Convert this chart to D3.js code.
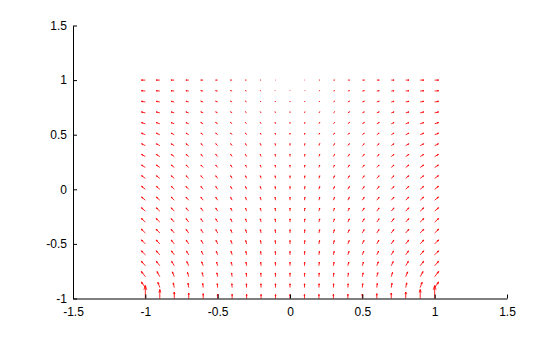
<!DOCTYPE html>
<html>
<head>
<meta charset="utf-8">
<script src="https://cdn.jsdelivr.net/npm/d3@7"></script>
<style>
html,body{margin:0;padding:0;background:#fff;}
svg{display:block;}
.axis text{font-family:"Liberation Sans",Arial,Helvetica,sans-serif;font-size:12px;fill:#000;}
.axis path,.axis line{stroke:#000;}
</style>
</head>
<body>
<svg id="chart" width="560" height="337"></svg>
<script>
// Grid of arrow origins
const gridX = [-1,-0.9,-0.8,-0.7,-0.6,-0.5,-0.4,-0.3,-0.2,-0.1,0,0.1,0.2,0.3,0.4,0.5,0.6,0.7,0.8,0.9,1];
const gridY = [1,0.9,0.8,0.7,0.6,0.5,0.4,0.3,0.2,0.1,0,-0.1,-0.2,-0.3,-0.4,-0.5,-0.6,-0.7,-0.8,-0.9,-1];

// Horizontal components (rows follow gridY, columns follow gridX)
const uField = [
[-4,-3.6,-3.2,-2.8,-2.4,-2,-1.6,-1.2,-0.8,-0.4,0,0.4,0.8,1.2,1.6,2,2.4,2.8,3.2,3.6,4],
[-4,-3.6,-3.2,-2.8,-2.4,-2,-1.6,-1.2,-0.8,-0.4,0,0.4,0.8,1.2,1.6,2,2.4,2.8,3.2,3.6,4],
[-4,-3.6,-3.2,-2.8,-2.4,-2,-1.6,-1.2,-0.8,-0.4,0,0.4,0.8,1.2,1.6,2,2.4,2.8,3.2,3.6,4],
[-4,-3.6,-3.2,-2.8,-2.4,-2,-1.6,-1.2,-0.8,-0.4,0,0.4,0.8,1.2,1.6,2,2.4,2.8,3.2,3.6,4],
[-3.9,-3.6,-3.2,-2.8,-2.4,-2,-1.6,-1.2,-0.8,-0.4,0,0.4,0.8,1.2,1.6,2,2.4,2.8,3.2,3.6,3.9],
[-3.9,-3.5,-3.1,-2.7,-2.3,-1.95,-1.55,-1.15,-0.8,-0.4,0,0.4,0.8,1.15,1.55,1.95,2.3,2.7,3.1,3.5,3.9],
[-3.8,-3.5,-3.1,-2.7,-2.3,-1.9,-1.5,-1.15,-0.75,-0.4,0,0.4,0.75,1.15,1.5,1.9,2.3,2.7,3.1,3.5,3.8],
[-3.8,-3.5,-3.1,-2.7,-2.3,-1.9,-1.5,-1.15,-0.75,-0.4,0,0.4,0.75,1.15,1.5,1.9,2.3,2.7,3.1,3.5,3.8],
[-3.8,-3.4,-3,-2.7,-2.3,-1.9,-1.5,-1.1,-0.75,-0.4,0,0.4,0.75,1.1,1.5,1.9,2.3,2.7,3,3.4,3.8],
[-3.8,-3.4,-3,-2.7,-2.3,-1.9,-1.5,-1.1,-0.75,-0.4,0,0.4,0.75,1.1,1.5,1.9,2.3,2.7,3,3.4,3.8],
[-3.8,-3.4,-3,-2.7,-2.3,-1.9,-1.5,-1.1,-0.75,-0.4,0,0.4,0.75,1.1,1.5,1.9,2.3,2.7,3,3.4,3.8],
[-3.8,-3.4,-3,-2.7,-2.3,-1.9,-1.5,-1.1,-0.75,-0.4,0,0.4,0.75,1.1,1.5,1.9,2.3,2.7,3,3.4,3.8],
[-3.9,-3.5,-3.1,-2.7,-2.3,-1.9,-1.5,-1.1,-0.75,-0.4,0,0.4,0.75,1.1,1.5,1.9,2.3,2.7,3.1,3.5,3.9],
[-4,-3.6,-3.1,-2.7,-2.3,-1.9,-1.5,-1.1,-0.75,-0.4,0,0.4,0.75,1.1,1.5,1.9,2.3,2.7,3.1,3.6,4],
[-4,-3.6,-3.1,-2.6,-2.2,-1.8,-1.4,-1,-0.7,-0.35,0,0.35,0.7,1,1.4,1.8,2.2,2.6,3.1,3.6,4],
[-4,-3.6,-3,-2.5,-2,-1.6,-1.3,-0.9,-0.6,-0.3,0,0.3,0.6,0.9,1.3,1.6,2,2.5,3,3.6,4],
[-4,-3.6,-2.8,-2.3,-1.8,-1.4,-1.1,-0.8,-0.5,-0.25,0,0.25,0.5,0.8,1.1,1.4,1.8,2.3,2.8,3.6,4],
[-4,-3.5,-2.6,-1.9,-1.5,-1.1,-0.9,-0.6,-0.4,-0.2,0,0.2,0.4,0.6,0.9,1.1,1.5,1.9,2.6,3.5,4],
[-4,-2.8,-1.9,-1.3,-1,-0.8,-0.6,-0.4,-0.3,-0.15,0,0.15,0.3,0.4,0.6,0.8,1,1.3,1.9,2.8,4],
[-4,-1.9,-1,-0.7,-0.5,-0.4,-0.3,-0.2,-0.15,-0.1,0,0.1,0.15,0.2,0.3,0.4,0.5,0.7,1,1.9,4],
[0,0,0,0,0,0,0,0,0,0,0,0,0,0,0,0,0,0,0,0,0]
];

// Vertical components (rows follow gridY, columns follow gridX)
const vField = [
[0,0,0,0,0,0,0,0,0,0,0,0,0,0,0,0,0,0,0,0,0],
[0.3,0.3,0.3,0.3,0.35,0.35,0.4,0.4,0.4,0.4,0.4,0.4,0.4,0.4,0.4,0.35,0.35,0.3,0.3,0.3,0.3],
[0.6,0.6,0.6,0.65,0.7,0.7,0.75,0.8,0.8,0.8,0.8,0.8,0.8,0.8,0.75,0.7,0.7,0.65,0.6,0.6,0.6],
[0.9,0.9,0.9,0.95,1,1,1.05,1.1,1.1,1.1,1.1,1.1,1.1,1.1,1.05,1,1,0.95,0.9,0.9,0.9],
[1.2,1.2,1.2,1.25,1.3,1.3,1.35,1.4,1.4,1.4,1.4,1.4,1.4,1.4,1.35,1.3,1.3,1.25,1.2,1.2,1.2],
[1.5,1.5,1.5,1.55,1.6,1.6,1.65,1.7,1.7,1.7,1.7,1.7,1.7,1.7,1.65,1.6,1.6,1.55,1.5,1.5,1.5],
[1.8,1.8,1.8,1.85,1.9,1.9,1.95,2,2,2,2,2,2,2,1.95,1.9,1.9,1.85,1.8,1.8,1.8],
[2.1,2.1,2.1,2.1,2.1,2.15,2.2,2.2,2.2,2.2,2.2,2.2,2.2,2.2,2.2,2.15,2.1,2.1,2.1,2.1,2.1],
[2.4,2.4,2.4,2.4,2.4,2.4,2.4,2.4,2.4,2.4,2.4,2.4,2.4,2.4,2.4,2.4,2.4,2.4,2.4,2.4,2.4],
[2.7,2.6,2.6,2.6,2.6,2.6,2.6,2.6,2.6,2.6,2.6,2.6,2.6,2.6,2.6,2.6,2.6,2.6,2.6,2.6,2.7],
[3,2.9,2.9,2.8,2.8,2.8,2.8,2.8,2.8,2.8,2.8,2.8,2.8,2.8,2.8,2.8,2.8,2.8,2.9,2.9,3],
[3.2,3.1,3.1,3,3,3,3,3,3,3,3,3,3,3,3,3,3,3,3.1,3.1,3.2],
[3.4,3.3,3.3,3.2,3.2,3.1,3.1,3.1,3.1,3.1,3.1,3.1,3.1,3.1,3.1,3.1,3.2,3.2,3.3,3.3,3.4],
[3.6,3.5,3.4,3.4,3.3,3.3,3.2,3.2,3.2,3.2,3.2,3.2,3.2,3.2,3.2,3.3,3.3,3.4,3.4,3.5,3.6],
[3.8,3.7,3.6,3.5,3.4,3.4,3.3,3.3,3.3,3.3,3.3,3.3,3.3,3.3,3.3,3.4,3.4,3.5,3.6,3.7,3.8],
[4,3.9,3.8,3.7,3.6,3.5,3.4,3.4,3.4,3.4,3.4,3.4,3.4,3.4,3.4,3.5,3.6,3.7,3.8,3.9,4],
[4,4,3.9,3.8,3.7,3.6,3.5,3.5,3.5,3.5,3.5,3.5,3.5,3.5,3.5,3.6,3.7,3.8,3.9,4,4],
[4.5,4.5,4.4,4.2,3.9,3.7,3.6,3.6,3.6,3.6,3.6,3.6,3.6,3.6,3.6,3.7,3.9,4.2,4.4,4.5,4.5],
[5.2,5.1,4.8,4.3,4,3.8,3.7,3.7,3.7,3.7,3.7,3.7,3.7,3.7,3.7,3.8,4,4.3,4.8,5.1,5.2],
[5.6,5.3,4.7,4.4,4.1,3.9,3.8,3.8,3.8,3.8,3.8,3.8,3.8,3.8,3.8,3.9,4.1,4.4,4.7,5.3,5.6],
[13,9,6.5,5.5,4.8,4.5,4.3,4.2,4.1,4,4,4,4.1,4.2,4.3,4.5,4.8,5.5,6.5,9,13]
];

const xTicks = [-1.5,-1,-0.5,0,0.5,1,1.5];
const yTicks = [-1,-0.5,0,0.5,1,1.5];

const svg = d3.select("#chart");
const x = d3.scaleLinear().domain([-1.5,1.5]).range([73,507]);
const y = d3.scaleLinear().domain([-1,1.5]).range([298.5,25.5]);
const fmt = d => String(d);

// arrows (vector components are in screen pixels)
const alpha = 0.33, beta = 0.33;
const arrows = [];
gridY.forEach((gy, r) => {
  gridX.forEach((gx, c) => {
    arrows.push({x0: gx, y0: gy, u: uField[r][c], v: vField[r][c]});
  });
});
const g = svg.append("g");
arrows.forEach(a => {
  const px = x(a.x0), py = y(a.y0);
  const dx = a.u, dy = -a.v;
  const tx = px + dx, ty = py + dy;
  const path = d3.path();
  path.moveTo(px, py);
  path.lineTo(tx, ty);
  const hx1 = tx - alpha*(dx + beta*dy), hy1 = ty - alpha*(dy - beta*dx);
  const hx2 = tx - alpha*(dx - beta*dy), hy2 = ty - alpha*(dy + beta*dx);
  path.moveTo(hx1, hy1);
  path.lineTo(tx, ty);
  path.lineTo(hx2, hy2);
  g.append("path").attr("d", path.toString())
    .attr("fill","none").attr("stroke","#ff0000").attr("stroke-width",0.85)
    .attr("stroke-linecap","butt").attr("stroke-linejoin","miter");
});

// axes
const xAxis = d3.axisBottom(x).tickValues(xTicks).tickSizeInner(-4).tickSizeOuter(0).tickPadding(9).tickFormat(fmt);
const yAxis = d3.axisLeft(y).tickValues(yTicks).tickSizeInner(-4).tickSizeOuter(0).tickPadding(6).tickFormat(fmt);
svg.append("g").attr("class","axis").attr("transform","translate(0,298.5)").call(xAxis);
svg.append("g").attr("class","axis").attr("transform","translate(73,0)").call(yAxis);
svg.selectAll(".axis text").attr("font-family",null).attr("font-size",null);
</script>
</body>
</html>
